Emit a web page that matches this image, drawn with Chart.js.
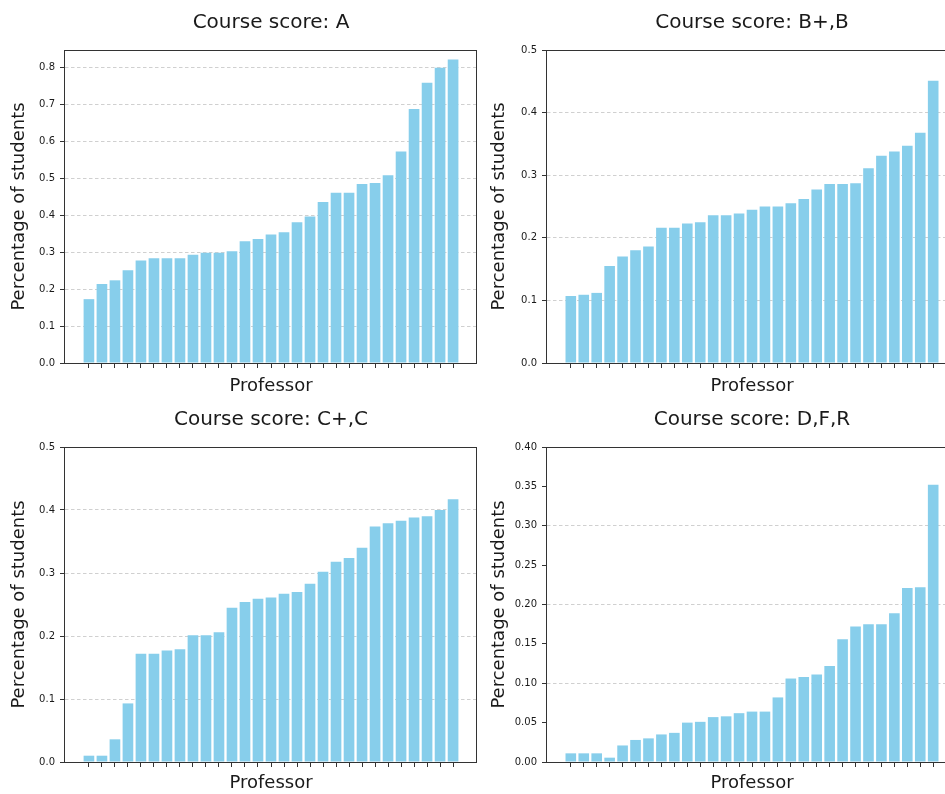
<!DOCTYPE html>
<html>
<head>
<meta charset="utf-8">
<script src="https://cdn.jsdelivr.net/npm/chart.js@4.4.1/dist/chart.umd.min.js"></script>
<style>
html,body{margin:0;padding:0;background:#fff;width:945px;height:794px;overflow:hidden;position:relative}
canvas{position:absolute;display:block}
</style>
</head>
<body>
<canvas id="c1" width="477" height="397" style="left:0px;top:0px"></canvas>
<canvas id="c2" width="468" height="397" style="left:489px;top:0px"></canvas>
<canvas id="c3" width="477" height="397" style="left:0px;top:397px"></canvas>
<canvas id="c4" width="468" height="397" style="left:489px;top:397px"></canvas>
<script>
// ---- data ----
const professors = [0,1,2,3,4,5,6,7,8,9,10,11,12,13,14,15,16,17,18,19,20,21,22,23,24,25,26,27,28];

const titleA = 'Course score: A';
const titleB = 'Course score: B+,B';
const titleC = 'Course score: C+,C';
const titleD = 'Course score: D,F,R';

const scoreA = [0.173,0.214,0.224,0.251,0.278,0.284,0.284,0.284,0.293,0.299,0.299,0.303,0.330,0.336,0.348,0.354,0.381,0.397,0.436,0.461,0.461,0.485,0.488,0.509,0.573,0.688,0.759,0.800,0.822];
const scoreB = [0.107,0.109,0.112,0.155,0.170,0.180,0.186,0.216,0.216,0.223,0.225,0.236,0.236,0.239,0.245,0.250,0.250,0.255,0.262,0.277,0.286,0.286,0.287,0.311,0.331,0.338,0.347,0.368,0.451];
const scoreC = [0.010,0.010,0.036,0.093,0.172,0.172,0.177,0.179,0.201,0.201,0.206,0.245,0.254,0.259,0.261,0.267,0.270,0.283,0.302,0.318,0.324,0.340,0.374,0.379,0.383,0.388,0.390,0.400,0.417];
const scoreD = [0.011,0.011,0.011,0.0055,0.021,0.028,0.030,0.035,0.037,0.050,0.051,0.057,0.058,0.062,0.064,0.064,0.082,0.106,0.108,0.111,0.122,0.156,0.172,0.175,0.175,0.189,0.221,0.222,0.352];

const yTicksA = ['0.0','0.1','0.2','0.3','0.4','0.5','0.6','0.7','0.8'];
const yTicksB = ['0.0','0.1','0.2','0.3','0.4','0.5'];
const yTicksC = ['0.0','0.1','0.2','0.3','0.4','0.5'];
const yTicksD = ['0.00','0.05','0.10','0.15','0.20','0.25','0.30','0.35','0.40'];

const xLabel = 'Professor';
const yLabel = 'Percentage of students';

// ---- style ----
const FONT = '"DejaVu Sans", Verdana, sans-serif';
const BAR = '#87CEEB';
const GRID = 'rgba(150,150,150,0.45)';
const INK = '#1a1a1a';

function makeChart(id, title, values, tickLabels, yMax, padLeft, yWidth, xHeight) {
  const tickVals = tickLabels.map(parseFloat);
  const deco = {
    id: 'deco' + id,
    afterDraw(chart) {
      const {ctx, chartArea: a} = chart;
      ctx.save();
      ctx.strokeStyle = '#333';
      ctx.lineWidth = 1;
      const l = Math.round(a.left) - 0.5, t = Math.round(a.top) + 0.5;
      const r = Math.round(a.right) - 0.5, b = Math.round(a.bottom) + 0.5;
      ctx.strokeRect(l, t, r - l, b - t);
      ctx.fillStyle = INK;
      ctx.font = '20px ' + FONT;
      ctx.textAlign = 'center';
      ctx.textBaseline = 'alphabetic';
      ctx.fillText(title, (a.left + a.right) / 2, a.top - 22);
      ctx.restore();
    }
  };
  return new Chart(document.getElementById(id), {
    type: 'bar',
    data: {
      datasets: [{
        data: professors.map((p, i) => ({x: p, y: values[i]})),
        backgroundColor: BAR,
        borderWidth: 0,
        barPercentage: 0.82,
        categoryPercentage: 1.0
      }]
    },
    options: {
      responsive: false,
      animation: false,
      devicePixelRatio: 1,
      layout: {padding: {left: padLeft, right: 0, top: 50, bottom: 0}},
      plugins: {legend: {display: false}, tooltip: {enabled: false}, title: {display: false}},
      scales: {
        x: {
          type: 'linear',
          min: professors[0] - 1.84,
          max: professors[professors.length - 1] + 1.84,
          offset: false,
          afterBuildTicks: s => { s.ticks = professors.map(p => ({value: p})); },
          afterFit: s => { s.height = xHeight; },
          grid: {offset: false, drawOnChartArea: false, drawTicks: true, tickLength: 5, tickColor: '#333', tickWidth: 1},
          border: {display: false},
          ticks: {display: false},
          title: {display: true, text: xLabel, color: INK, font: {family: FONT, size: 18}, padding: 0}
        },
        y: {
          type: 'linear',
          min: 0,
          max: yMax,
          z: 1,
          afterBuildTicks: s => { s.ticks = tickVals.map(v => ({value: v})); },
          afterFit: s => { s.width = yWidth; },
          grid: {
            offset: false,
            color: c => {
              const v = c.tick ? c.tick.value : NaN;
              return Math.abs(v * 10 - Math.round(v * 10)) < 1e-6 ? GRID : 'rgba(0,0,0,0)';
            },
            lineWidth: 1,
            drawTicks: true,
            tickLength: 5,
            tickColor: '#333',
            tickWidth: 1,
            tickBorderDash: []
          },
          border: {display: false, dash: [3.5, 2.5]},
          ticks: {
            callback: (v, i) => tickLabels[i],
            color: INK,
            font: {family: FONT, size: 10},
            padding: 5
          },
          title: {display: true, text: yLabel, color: INK, font: {family: FONT, size: 18}, padding: 0}
        }
      }
    },
    plugins: [deco]
  });
}

makeChart('c1', titleA, scoreA, yTicksA, 0.848, 9, 56, 34);
makeChart('c2', titleB, scoreB, yTicksB, 0.5, 0, 58, 34);
makeChart('c3', titleC, scoreC, yTicksC, 0.5, 9, 56, 32);
makeChart('c4', titleD, scoreD, yTicksD, 0.40, 0, 58, 32);
</script>
</body>
</html>
